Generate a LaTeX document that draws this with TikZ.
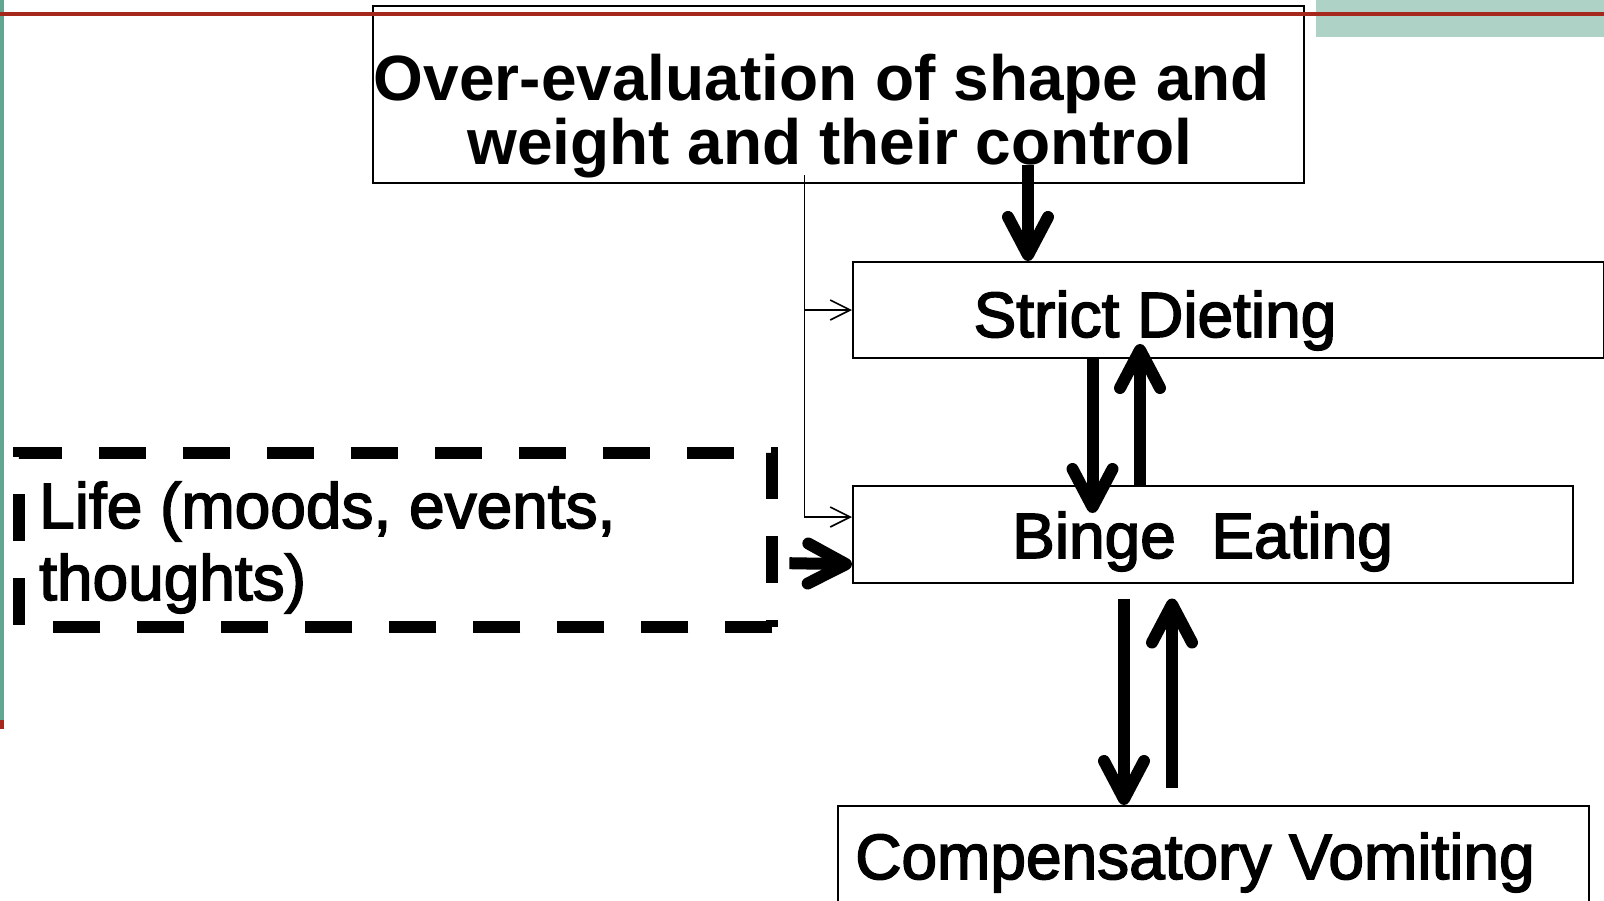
\documentclass[tikz,border=0pt]{standalone}
\usepackage{fontspec}
\setmainfont{Liberation Sans}
\newfontfamily\heavysans[FakeBold=2.5]{Liberation Sans}
\usetikzlibrary{arrows.meta,calc}
\definecolor{barteal}{RGB}{100,165,146}
\definecolor{paleteal}{RGB}{175,210,199}
\definecolor{rulered}{RGB}{166,40,28}

\begin{document}
\begin{tikzpicture}[x=1pt,y=-1pt,
  box/.style={draw=black, line width=2pt, inner sep=0pt, anchor=north west},
  lbl/.style={inner sep=0pt, anchor=base, font=\heavysans\fontsize{64}{67}\selectfont},
  bigarrow/.style={line width=12pt, -{Straight Barb[round,length=38pt,width=40pt]}},
  thinarrow/.style={line width=1.6pt, -{Straight Barb[length=20pt,width=20pt]}},
  dashframe/.style={line width=12pt, dash pattern=on 47pt off 37pt},
]
\clip (0,0) rectangle (1604,900);
\useasboundingbox (0,0) rectangle (1604,900);
\fill[white] (0,0) rectangle (1604,900);

% slide decoration
\fill[paleteal] (1316,0) rectangle (1604,36.5);
\fill[barteal] (0,0) rectangle (4,720);
\fill[rulered] (0,720) rectangle (4,729);

% boxes
\node[box, minimum width=931pt, minimum height=177pt] (top) at (372,5) {};
\node[box, minimum width=751pt, minimum height=96pt] (strict) at (852,261) {};
\node[box, minimum width=719.5pt, minimum height=96.5pt] (binge) at (852,485) {};
\node[box, minimum width=751pt, minimum height=140pt] (comp) at (836.5,805) {};
\node[inner sep=0pt, minimum width=753pt, minimum height=174pt, anchor=north west] (life) at (19,453) {};
\draw[dashframe] (life.south east) -- (life.south west) -- (life.north west) -- (life.north east) -- cycle;

% labels
\node[lbl, font=\bfseries\fontsize{64}{64}\selectfont, align=center] (toptext) at (830,164)
  {Over-evaluation of shape and\hspace*{16pt}\\weight and their control};
\node[lbl] (stricttext) at (1155,337) {Strict Dieting};
\node[lbl] (bingetext) at (1202.5,558) {Binge\ \ Eating};
\node[lbl] (comptext) at (1195,879) {Compensatory Vomiting};
\node[lbl, anchor=base west, align=left, font=\heavysans\fontsize{64}{72}\selectfont] (lifetext) at (39,600) {Life (moods, events,\\thoughts)};

% thin connector from the top box
\coordinate (split) at ($(top.south west)+(432.5,-9)$);
\draw[thinarrow] (split) |- ($(binge.north west)+(0,32)$);
\draw[thinarrow] (split |- strict.west) -- (strict.west);

% thick arrows
\draw[bigarrow] ($(top.south west)+(656,-19)$) -- ($(strict.north west)+(176,0)$);
\draw[bigarrow] ($(strict.south west)+(240.5,0)$) -- ($(binge.north west)+(240.5,28)$);
\draw[bigarrow] ($(binge.north west)+(288,0)$) -- ($(strict.south west)+(288,-15)$);
\draw[bigarrow] ($(binge.south west)+(272,15)$) -- ($(comp.north west)+(287.5,0)$);
\draw[bigarrow] ($(comp.north west)+(335.5,-17)$) -- ($(binge.south west)+(320,15)$);
\draw[bigarrow] ($(life.east)+(17,23)$) -- ($(binge.west)+(0,30)$);

% red rule across the top
\fill[rulered] (0,12.3) rectangle (1604,16.3);
\end{tikzpicture}
\end{document}
